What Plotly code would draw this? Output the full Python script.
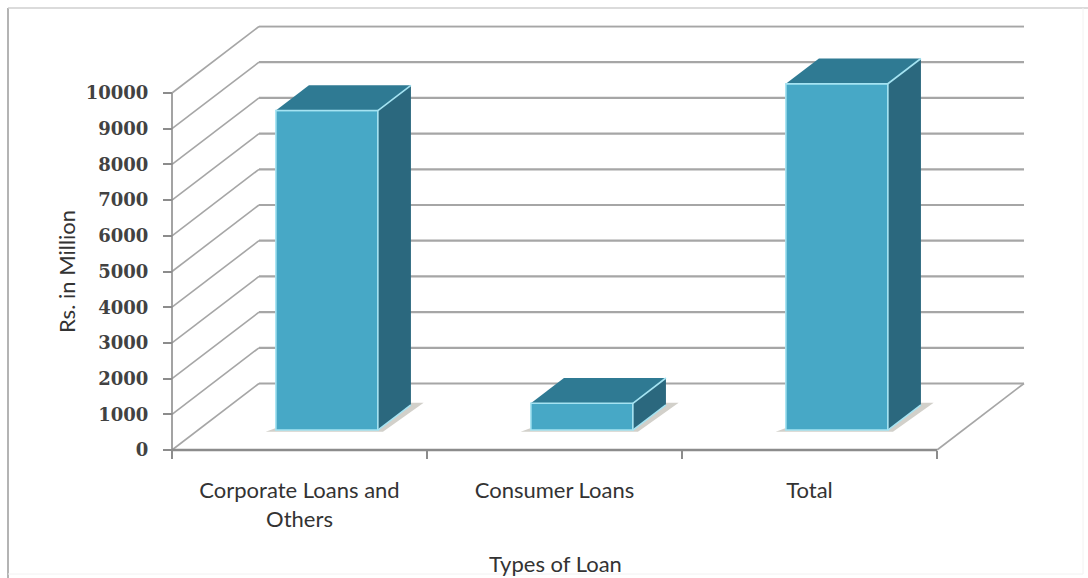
import plotly.graph_objects as go

# Loan portfolio, Rs. in Million
CATEGORIES = ["Corporate Loans and<br>Others", "Consumer Loans", "Total"]
LOAN_VALUES = [8950, 750, 9700]
VALUE_TICKS = [0, 1000, 2000, 3000, 4000, 5000, 6000, 7000, 8000, 9000, 10000]
X_TITLE = "Types of Loan"
Y_TITLE = "Rs. in Million"

# Figure size and where the front axes sit, in pixels
WIDTH, HEIGHT = 1088, 578
ORIGIN_X, ORIGIN_Y = 172.0, 450.0
PX_PER_BAND = 255.0
PX_PER_UNIT = 0.0357

# Oblique projection: how far the floor recedes, in axis units
BANDS = len(CATEGORIES)
WALL_DX = 87 / PX_PER_BAND
WALL_DY = 66.5 / PX_PER_UNIT
BAR_WIDTH = 0.40
BAR_FRONT = 0.30      # front face position, as a share of floor depth
BAR_DEPTH = 0.38      # bar depth, as a share of floor depth

X_RANGE = [-0.04, 3.37]
Y_RANGE = [-400, 11900]

FRONT_COLOR = "#47a8c6"
TOP_COLOR = "#2f7a93"
SIDE_COLOR = "#2b687e"
EDGE_COLOR = "#a5e3f2"
GRID_COLOR = "#a6a6a6"
AXIS_COLOR = "#8c8c8c"
SHADOW_COLOR = "#d2d0ca"
TEXT_COLOR = "#333333"
LABEL_FONT = "Lato"
LABEL_SIZE = 22


def px_x(v):
    return (ORIGIN_X + (v * PX_PER_BAND)) / WIDTH


def px_y(v):
    return (HEIGHT - ORIGIN_Y + v * PX_PER_UNIT) / HEIGHT


def line(x0, y0, x1, y1, color=GRID_COLOR, width=2):
    return dict(type="line", xref="x", yref="y", x0=x0, y0=y0, x1=x1, y1=y1,
                layer="below", line=dict(color=color, width=width))


def polygon_path(points):
    return "M " + " L ".join(f"{x},{y}" for x, y in points) + " Z"


shapes = []

# Receding gridlines on the side wall and horizontal ones on the back wall
for t in VALUE_TICKS:
    shapes.append(line(0, t, WALL_DX, t + WALL_DY, width=1.6))
    shapes.append(line(WALL_DX, t + WALL_DY, BANDS + WALL_DX, t + WALL_DY, width=2.2))

# Floor edge and the two front axis lines
shapes.append(line(BANDS, 0, BANDS + WALL_DX, WALL_DY, width=1.6))
shapes.append(line(0, 0, BANDS, 0, color=AXIS_COLOR, width=2.4))
shapes.append(line(0, 0, 0, VALUE_TICKS[-1], color=AXIS_COLOR, width=1.6))

front_dx = BAR_FRONT * WALL_DX
front_dy = BAR_FRONT * WALL_DY
depth_dx = BAR_DEPTH * WALL_DX
depth_dy = BAR_DEPTH * WALL_DY
centers = [i + 0.505 + front_dx for i in range(BANDS)]

# Soft contact shadow on the floor around each bar
for c in centers:
    left, right = c - BAR_WIDTH / 2, c + BAR_WIDTH / 2
    shapes.append(dict(
        type="path", xref="x", yref="y", layer="below",
        fillcolor=SHADOW_COLOR, line=dict(width=0),
        path=polygon_path([
            (left - 0.04, front_dy - 50),
            (right + 0.02, front_dy - 50),
            (right + depth_dx + 0.05, front_dy + depth_dy + 60),
            (right + depth_dx, front_dy + depth_dy + 60),
            (left, front_dy + 60),
        ]),
    ))

fig = go.Figure()

# Front faces
fig.add_trace(go.Bar(
    x=centers, y=LOAN_VALUES, base=[front_dy] * BANDS, width=BAR_WIDTH,
    marker=dict(color=FRONT_COLOR, line=dict(color=EDGE_COLOR, width=1.6)),
    showlegend=False, hoverinfo="skip",
))

# Side and top faces, projected from each bar's value
for c, value in zip(centers, LOAN_VALUES):
    left, right = c - BAR_WIDTH / 2, c + BAR_WIDTH / 2
    bottom, top = front_dy, front_dy + value
    fig.add_trace(go.Scatter(
        x=[right, right + depth_dx, right + depth_dx, right, right],
        y=[bottom, bottom + depth_dy, top + depth_dy, top, bottom],
        mode="lines", fill="toself", fillcolor=SIDE_COLOR,
        line=dict(width=0), showlegend=False, hoverinfo="skip",
    ))
    fig.add_trace(go.Scatter(
        x=[left, right, right + depth_dx, left + depth_dx, left],
        y=[top, top, top + depth_dy, top + depth_dy, top],
        mode="lines", fill="toself", fillcolor=TOP_COLOR,
        line=dict(width=0), showlegend=False, hoverinfo="skip",
    ))
    # Highlighted edges where the faces meet
    fig.add_trace(go.Scatter(
        x=[left, right, right, None, right, right + depth_dx, None, right, right + depth_dx],
        y=[top, top, bottom, None, top, top + depth_dy, None, bottom, bottom + depth_dy],
        mode="lines", line=dict(color=EDGE_COLOR, width=1.6),
        showlegend=False, hoverinfo="skip",
    ))

# Outer chart frame
frame = [
    (8, 8, 8, HEIGHT, "#b4b4b4", 2),
    (8, 8, WIDTH, 8, "#cfcfcf", 1.5),
    (1083, 8, 1083, 574, "#f2f2f2", 1),
    (8, 574, 1083, 574, "#f2f2f2", 1),
]
for x0, y0, x1, y1, color, width in frame:
    shapes.append(dict(type="line", xref="paper", yref="paper",
                       x0=x0 / WIDTH, y0=1 - y0 / HEIGHT,
                       x1=x1 / WIDTH, y1=1 - y1 / HEIGHT,
                       layer="below", line=dict(color=color, width=width)))

annotations = [
    dict(text=X_TITLE, xref="paper", yref="paper", x=555 / WIDTH, y=1 - 563 / HEIGHT,
         showarrow=False, xanchor="center", yanchor="middle",
         font=dict(family=LABEL_FONT, size=LABEL_SIZE, color=TEXT_COLOR)),
    dict(text=Y_TITLE, xref="paper", yref="paper", x=66 / WIDTH, y=1 - 272 / HEIGHT,
         showarrow=False, xanchor="center", yanchor="middle", textangle=-90,
         font=dict(family=LABEL_FONT, size=LABEL_SIZE, color=TEXT_COLOR)),
]

fig.update_layout(
    width=WIDTH, height=HEIGHT, margin=dict(l=0, r=0, t=0, b=0),
    paper_bgcolor="white", plot_bgcolor="white", showlegend=False,
    shapes=shapes, annotations=annotations,
    xaxis=dict(
        range=X_RANGE, autorange=False,
        domain=[px_x(X_RANGE[0]), px_x(X_RANGE[1])],
        anchor="free", position=px_y(0),
        showgrid=False, zeroline=False, showline=False,
        tickmode="array",
        tickvals=[i + 0.5 for i in range(BANDS)], ticktext=CATEGORIES,
        ticks="", ticklabelstandoff=25, tickangle=0,
        tickfont=dict(family=LABEL_FONT, size=LABEL_SIZE, color=TEXT_COLOR),
        minor=dict(tickmode="array", tickvals=list(range(BANDS + 1)),
                   ticks="outside", ticklen=8, tickwidth=1.6, tickcolor=AXIS_COLOR,
                   showgrid=False),
    ),
    yaxis=dict(
        range=Y_RANGE, autorange=False,
        domain=[px_y(Y_RANGE[0]), px_y(Y_RANGE[1])],
        anchor="free", position=px_x(0),
        showgrid=False, zeroline=False, showline=False,
        tickmode="array", tickvals=VALUE_TICKS,
        ticktext=[str(t) for t in VALUE_TICKS],
        ticks="outside", ticklen=9, tickwidth=1.6, tickcolor=AXIS_COLOR,
        ticklabelstandoff=11,
        tickfont=dict(family="DejaVu Serif", size=18, weight="bold", color="#424242"),
    ),
)

fig.write_html("out.html", config=dict(displayModeBar=False))
